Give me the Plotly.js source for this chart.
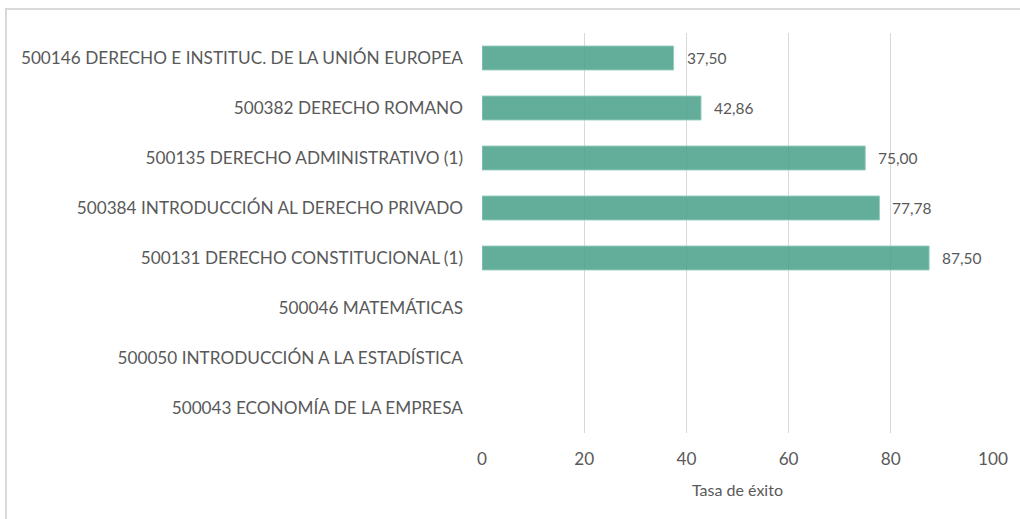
<!DOCTYPE html>
<html>
<head>
<meta charset="utf-8">
<script src="https://cdn.plot.ly/plotly-3.0.1.min.js"></script>
<style>
html,body{margin:0;padding:0;background:#fff;}
#wrap{position:relative;width:1020px;height:519px;overflow:hidden;}
#chart{width:1020px;height:519px;}
#frame{position:absolute;left:5px;top:8px;width:1100px;height:600px;border:2px solid #d9d9d9;pointer-events:none;}
</style>
</head>
<body>
<div id="wrap"><div id="chart"></div><div id="frame"></div></div>
<script>
const categories = [
  "500146 DERECHO E INSTITUC. DE LA UNIÓN EUROPEA",
  "500382 DERECHO ROMANO",
  "500135 DERECHO ADMINISTRATIVO (1)",
  "500384 INTRODUCCIÓN AL DERECHO PRIVADO",
  "500131 DERECHO CONSTITUCIONAL (1)",
  "500046 MATEMÁTICAS",
  "500050 INTRODUCCIÓN A LA ESTADÍSTICA",
  "500043 ECONOMÍA DE LA EMPRESA"
];
const tasaExito = [37.50, 42.86, 75.00, 77.78, 87.50, null, null, null];
const xTicks = [0, 20, 40, 60, 80, 100];

const FONT = "Lato, 'Open Sans', sans-serif";
const GRAY = "#595959";

const annotations = [];
categories.forEach((c, i) => {
  const v = tasaExito[i];
  if (v === null) return;
  annotations.push({
    x: v, y: c, xref: 'x', yref: 'y',
    text: v.toFixed(2).replace('.', ','),
    showarrow: false, xanchor: 'left', yanchor: 'middle',
    xshift: 11, font: {family: FONT, size: 15.5, color: GRAY}
  });
});

const trace = {
  type: 'bar', orientation: 'h',
  x: tasaExito, y: categories,
  marker: {color: 'rgba(70,160,137,0.85)', line: {color: 'rgba(150,205,190,0.9)', width: 1}},
  width: 0.48,
  hoverinfo: 'none'
};

const layout = {
  width: 1020, height: 519,
  margin: {l: 482, r: 27, t: 33, b: 86},
  paper_bgcolor: '#fff', plot_bgcolor: '#fff',
  showlegend: false,
  separators: ',.',
  font: {family: FONT, color: GRAY},
  xaxis: {
    range: [0, 100], tickvals: xTicks, ticktext: xTicks.map(String),
    showgrid: true, gridcolor: '#d9d9d9', gridwidth: 1,
    zeroline: false, showline: false, ticks: '',
    ticklabelstandoff: 14,
    tickfont: {family: FONT, size: 17.2, color: GRAY},
    title: {text: 'Tasa de éxito', font: {family: FONT, size: 16, color: GRAY}, standoff: 16},
    fixedrange: true
  },
  yaxis: {
    type: 'category', categoryorder: 'array', categoryarray: categories,
    autorange: 'reversed',
    showgrid: false, zeroline: false, showline: false, ticks: '',
    ticklabelstandoff: 18,
    tickfont: {family: FONT, size: 17.2, color: GRAY},
    fixedrange: true
  },
  annotations: annotations
};

Plotly.newPlot('chart', [trace], layout, {displayModeBar: false, staticPlot: true});
</script>
</body>
</html>
